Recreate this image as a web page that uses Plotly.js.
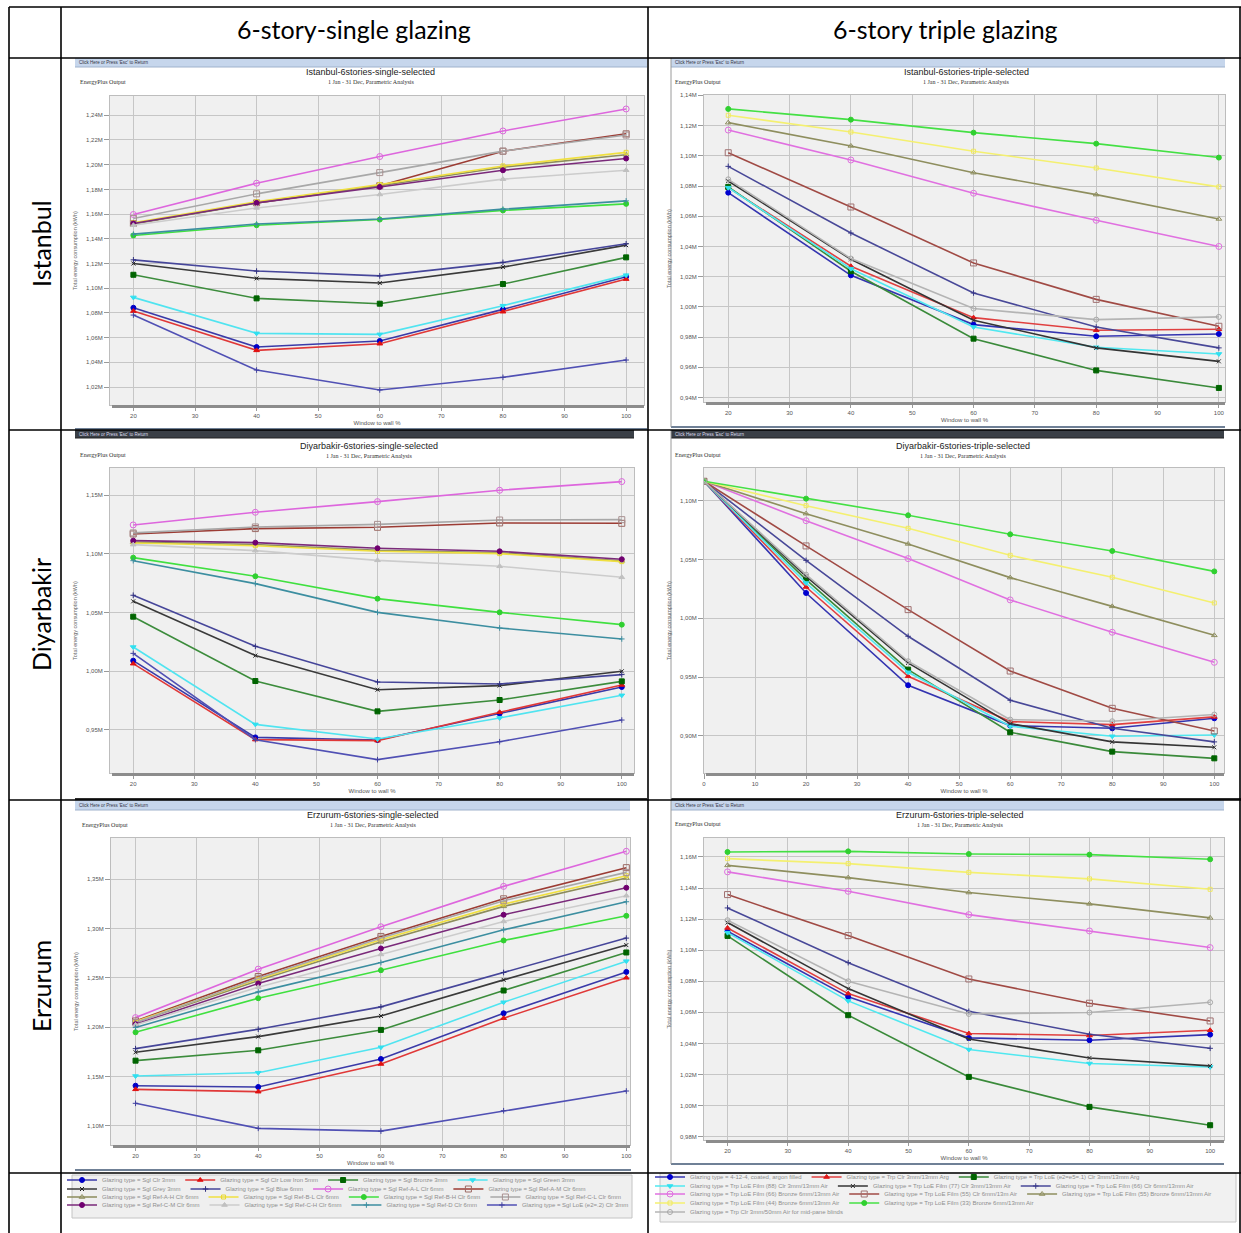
<!DOCTYPE html>
<html><head><meta charset="utf-8">
<script src="https://cdn.plot.ly/plotly-3.0.1.min.js"></script>
<style>html,body{margin:0;padding:0;background:#fff}#chart{width:1241px;height:1233px}</style>
</head><body><div id="chart"></div>
<script>
// ---------------- DATA ----------------
const wwr = [20, 40, 60, 80, 100];
const wwrDiyarbakirTriple = [0, 20, 40, 60, 80, 100];
const xTicks = [20, 30, 40, 50, 60, 70, 80, 90, 100];
const xTicksDiyarbakirTriple = [0, 10, 20, 30, 40, 50, 60, 70, 80, 90, 100];

const singleGlazing = [
  'Glazing type = Sgl Clr 3mm', 'Glazing type = Sgl Clr Low Iron 5mm', 'Glazing type = Sgl Bronze 3mm', 'Glazing type = Sgl Green 3mm',
  'Glazing type = Sgl Grey 3mm', 'Glazing type = Sgl Blue 6mm', 'Glazing type = Sgl Ref-A-L Clr 6mm', 'Glazing type = Sgl Ref-A-M Clr 6mm',
  'Glazing type = Sgl Ref-A-H Clr 6mm', 'Glazing type = Sgl Ref-B-L Clr 6mm', 'Glazing type = Sgl Ref-B-H Clr 6mm', 'Glazing type = Sgl Ref-C-L Clr 6mm',
  'Glazing type = Sgl Ref-C-M Clr 6mm', 'Glazing type = Sgl Ref-C-H Clr 6mm', 'Glazing type = Sgl Ref-D Clr 6mm', 'Glazing type = Sgl LoE (e2=.2) Clr 3mm'
];
const tripleGlazing = [
  'Glazing type = 4-12-4, coated, argon filled', 'Glazing type = Trp Clr 3mm/13mm Arg', 'Glazing type = Trp LoE (e2=e5=.1) Clr 3mm/13mm Arg',
  'Glazing type = Trp LoE Film (88) Clr 3mm/13mm Air', 'Glazing type = Trp LoE Film (77) Clr 3mm/13mm Air', 'Glazing type = Trp LoE Film (66) Clr 6mm/13mm Air',
  'Glazing type = Trp LoE Film (66) Bronze 6mm/13mm Air', 'Glazing type = Trp LoE Film (55) Clr 6mm/13m Air', 'Glazing type = Trp LoE Film (55) Bronze 6mm/13mm Air',
  'Glazing type = Trp LoE Film (44) Bronze 6mm/13mm Air', 'Glazing type = Trp LoE Film (33) Bronze 6mm/13mm Air',
  'Glazing type = Trp Clr 3mm/50mm Air for mid-pane blinds'
];

// Total energy consumption, million kWh (order = singleGlazing)
const istanbulSingle = [
  [1.0842, 1.0524, 1.0573, 1.0829, 1.1093],
  [1.0815, 1.0497, 1.0551, 1.0810, 1.1074],
  [1.1109, 1.0918, 1.0875, 1.1034, 1.1250],
  [1.0926, 1.0635, 1.0627, 1.0859, 1.1106],
  [1.1200, 1.1080, 1.1042, 1.1171, 1.1349],
  [1.1230, 1.1139, 1.1100, 1.1209, 1.1360],
  [1.1597, 1.1850, 1.2066, 1.2273, 1.2451],
  [1.1524, 1.1691, 1.1830, 1.2109, 1.2250],
  [1.1520, 1.1690, 1.1830, 1.1980, 1.2080],
  [1.1530, 1.1700, 1.1840, 1.1990, 1.2100],
  [1.1427, 1.1510, 1.1556, 1.1630, 1.1683],
  [1.1565, 1.1764, 1.1936, 1.2110, 1.2240],
  [1.1524, 1.1691, 1.1820, 1.1955, 1.2050],
  [1.1510, 1.1650, 1.1759, 1.1883, 1.1955],
  [1.1438, 1.1520, 1.1560, 1.1640, 1.1707],
  [1.0783, 1.0338, 1.0177, 1.0279, 1.0419]
];
const diyarbakirSingle = [
  [1.0089, 0.9434, 0.9412, 0.9637, 0.9864],
  [1.0063, 0.9415, 0.9406, 0.9648, 0.9881],
  [1.0464, 0.9915, 0.9656, 0.9753, 0.9912],
  [1.0205, 0.9545, 0.9420, 0.9600, 0.9793],
  [1.0595, 1.0132, 0.9841, 0.9876, 0.9998],
  [1.0647, 1.0211, 0.9907, 0.9890, 0.9970],
  [1.1247, 1.1355, 1.1446, 1.1543, 1.1617],
  [1.1170, 1.1216, 1.1227, 1.1264, 1.1261],
  [1.1100, 1.1080, 1.1030, 1.1010, 1.0940],
  [1.1093, 1.1070, 1.1022, 1.1002, 1.0934],
  [1.0968, 1.0809, 1.0618, 1.0501, 1.0396],
  [1.1179, 1.1230, 1.1252, 1.1289, 1.1292],
  [1.1113, 1.1096, 1.1048, 1.1022, 1.0954],
  [1.1079, 1.1028, 1.0945, 1.0894, 1.0800],
  [1.0942, 1.0746, 1.0501, 1.0368, 1.0274],
  [1.0151, 0.9414, 0.9244, 0.9397, 0.9582]
];
const erzurumSingle = [
  [1.1406, 1.1393, 1.1677, 1.2141, 1.2561],
  [1.1369, 1.1345, 1.1626, 1.2091, 1.2501],
  [1.1660, 1.1765, 1.1972, 1.2372, 1.2758],
  [1.1504, 1.1538, 1.1796, 1.2253, 1.2670],
  [1.1745, 1.1904, 1.2114, 1.2480, 1.2833],
  [1.1782, 1.1979, 1.2206, 1.2555, 1.2904],
  [1.2097, 1.2589, 1.3019, 1.3429, 1.3785],
  [1.2063, 1.2514, 1.2921, 1.3303, 1.3619],
  [1.2050, 1.2473, 1.2866, 1.3226, 1.3514],
  [1.2057, 1.2487, 1.2887, 1.3249, 1.3537],
  [1.1948, 1.2294, 1.2578, 1.2880, 1.3130],
  [1.2047, 1.2497, 1.2904, 1.3283, 1.3571],
  [1.2030, 1.2443, 1.2799, 1.3141, 1.3415],
  [1.2023, 1.2406, 1.2738, 1.3073, 1.3334],
  [1.1996, 1.2358, 1.2656, 1.2988, 1.3273],
  [1.1227, 1.0973, 1.0945, 1.1152, 1.1352]
];
// order = tripleGlazing
const istanbulTriple = [
  [1.0756, 1.0209, 0.9883, 0.9806, 0.9821],
  [1.0789, 1.0269, 0.9929, 0.9846, 0.9852],
  [1.0794, 1.0236, 0.9790, 0.9580, 0.9464],
  [1.0789, 1.0253, 0.9867, 0.9733, 0.9689],
  [1.0833, 1.0315, 0.9912, 0.9729, 0.9640],
  [1.0930, 1.0489, 1.0092, 0.9867, 0.9729],
  [1.1170, 1.0972, 1.0752, 1.0573, 1.0400],
  [1.1020, 1.0661, 1.0291, 1.0050, 0.9872],
  [1.1219, 1.1065, 1.0888, 1.0743, 1.0582],
  [1.1268, 1.1157, 1.1030, 1.0919, 1.0794],
  [1.1310, 1.1239, 1.1153, 1.1080, 1.0988],
  [1.0844, 1.0320, 0.9989, 0.9916, 0.9934]
];
const diyarbakirTriple = [
  [1.1168, 1.0216, 0.9430, 0.9086, 0.9063, 0.9148],
  [1.1168, 1.0267, 0.9506, 0.9120, 0.9094, 0.9160],
  [1.1168, 1.0330, 0.9563, 0.9029, 0.8864, 0.8807],
  [1.1168, 1.0301, 0.9540, 0.9080, 0.8995, 0.9006],
  [1.1168, 1.0358, 0.9620, 0.9103, 0.8947, 0.8901],
  [1.1168, 1.0494, 0.9847, 0.9302, 0.9063, 0.8947],
  [1.1168, 1.0832, 1.0509, 1.0157, 0.9881, 0.9625],
  [1.1168, 1.0617, 1.0074, 0.9551, 0.9233, 0.9040],
  [1.1168, 1.0892, 1.0634, 1.0347, 1.0102, 0.9855],
  [1.1168, 1.0960, 1.0767, 1.0537, 1.0350, 1.0131],
  [1.1168, 1.1020, 1.0878, 1.0716, 1.0574, 1.0400],
  [1.1168, 1.0372, 0.9634, 0.9137, 0.9123, 0.9180]
];
const erzurumTriple = [
  [1.1122, 1.0700, 1.0436, 1.0421, 1.0457],
  [1.1143, 1.0721, 1.0464, 1.0451, 1.0485],
  [1.1092, 1.0582, 1.0185, 0.9992, 0.9874],
  [1.1113, 1.0674, 1.0361, 1.0271, 1.0249],
  [1.1178, 1.0753, 1.0429, 1.0307, 1.0256],
  [1.1272, 1.0920, 1.0607, 1.0459, 1.0369],
  [1.1504, 1.1379, 1.1229, 1.1124, 1.1017],
  [1.1358, 1.1094, 1.0815, 1.0659, 1.0545],
  [1.1546, 1.1467, 1.1371, 1.1298, 1.1208],
  [1.1589, 1.1557, 1.1501, 1.1459, 1.1392],
  [1.1632, 1.1636, 1.1619, 1.1615, 1.1585],
  [1.1193, 1.0800, 1.0590, 1.0599, 1.0665]
];

// Tick labels
const istanbulSingleYTicks = [1.02, 1.04, 1.06, 1.08, 1.10, 1.12, 1.14, 1.16, 1.18, 1.20, 1.22, 1.24];
const istanbulSingleYLabels = ['1,02M', '1,04M', '1,06M', '1,08M', '1,10M', '1,12M', '1,14M', '1,16M', '1,18M', '1,20M', '1,22M', '1,24M'];
const istanbulTripleYTicks = [0.94, 0.96, 0.98, 1.00, 1.02, 1.04, 1.06, 1.08, 1.10, 1.12, 1.14];
const istanbulTripleYLabels = ['0,94M', '0,96M', '0,98M', '1,00M', '1,02M', '1,04M', '1,06M', '1,08M', '1,10M', '1,12M', '1,14M'];
const diyarbakirSingleYTicks = [0.95, 1.00, 1.05, 1.10, 1.15];
const diyarbakirSingleYLabels = ['0,95M', '1,00M', '1,05M', '1,10M', '1,15M'];
const diyarbakirTripleYTicks = [0.90, 0.95, 1.00, 1.05, 1.10];
const diyarbakirTripleYLabels = ['0,90M', '0,95M', '1,00M', '1,05M', '1,10M'];
const erzurumSingleYTicks = [1.10, 1.15, 1.20, 1.25, 1.30, 1.35];
const erzurumSingleYLabels = ['1,10M', '1,15M', '1,20M', '1,25M', '1,30M', '1,35M'];
const erzurumTripleYTicks = [0.98, 1.00, 1.02, 1.04, 1.06, 1.08, 1.10, 1.12, 1.14, 1.16];
const erzurumTripleYLabels = ['0,98M', '1,00M', '1,02M', '1,04M', '1,06M', '1,08M', '1,10M', '1,12M', '1,14M', '1,16M'];

const columnHeaders = ['6-story-single glazing', '6-story triple glazing'];
const rowHeaders = ['Istanbul', 'Diyarbakir', 'Erzurum'];

// ---------------- STYLES ----------------
const singleStyles = [
  {line: '#3a3aa8', marker: '#0000c8', symbol: 'circle', size: 5},
  {line: '#e03838', marker: '#e01010', symbol: 'triangle-up', size: 5},
  {line: '#3c8c3c', marker: '#006400', symbol: 'square', size: 5},
  {line: '#50e4f0', marker: '#30e0f0', symbol: 'triangle-down', size: 5},
  {line: '#3a3a3a', marker: '#202020', symbol: 'x-thin-open', size: 4},
  {line: '#46469a', marker: '#303080', symbol: 'cross-thin-open', size: 4},
  {line: '#dd66dd', marker: '#dd66dd', symbol: 'circle-open', size: 6},
  {line: '#9c3c34', marker: '#9c6a64', symbol: 'square-open', size: 6},
  {line: '#8c8c5c', marker: '#8c8c5c', symbol: 'triangle-up-open', size: 5},
  {line: '#f0e040', marker: '#e8d830', symbol: 'square-open', size: 4},
  {line: '#40e040', marker: '#30d030', symbol: 'circle', size: 5},
  {line: '#a8a8a8', marker: '#a89090', symbol: 'square-open', size: 6},
  {line: '#7a2a7a', marker: '#700070', symbol: 'circle', size: 5},
  {line: '#cccccc', marker: '#c0c0c0', symbol: 'triangle-up', size: 5},
  {line: '#3c8ea0', marker: '#3c8ea0', symbol: 'cross-thin-open', size: 4},
  {line: '#5050b4', marker: '#4040a0', symbol: 'cross-thin-open', size: 4}
];
const tripleStyles = [
  {line: '#3434b0', marker: '#0000d0', symbol: 'circle', size: 5},
  {line: '#e04040', marker: '#e01818', symbol: 'triangle-up', size: 5},
  {line: '#3a8a3a', marker: '#006400', symbol: 'square', size: 5},
  {line: '#50e8f0', marker: '#30e0f0', symbol: 'triangle-down', size: 5},
  {line: '#343434', marker: '#303030', symbol: 'x-thin-open', size: 4},
  {line: '#484898', marker: '#383888', symbol: 'cross-thin-open', size: 4},
  {line: '#e070e0', marker: '#e070e0', symbol: 'circle-open', size: 6},
  {line: '#a04a44', marker: '#a07070', symbol: 'square-open', size: 6},
  {line: '#8e8e5e', marker: '#8e8e5e', symbol: 'triangle-up-open', size: 5},
  {line: '#f4f070', marker: '#f0e860', symbol: 'square-open', size: 4},
  {line: '#44e044', marker: '#30d030', symbol: 'circle', size: 5},
  {line: '#b4b4b4', marker: '#a8a8a8', symbol: 'circle-open', size: 5}
];

// ---------------- LAYOUT HELPERS ----------------
const W = 1241, H = 1233;
const fx = x => x / W;
const fy = y => 1 - y / H;

const panels = [
  {title: 'Istanbul-6stories-single-selected', x: wwr, xt: xTicks, data: istanbulSingle, names: singleGlazing, styles: singleStyles,
   box: [110, 96, 644, 405], xr: [16.2, 102.9], yr: [1.0055, 1.2556], yt: istanbulSingleYTicks, yl: istanbulSingleYLabels,
   shot: [75, 58, 647, 429], strip: [75, 58, 647, 67], dark: false, cx: 371, ty: 72, epx: 78, ep: 82, legendRow: i => Math.floor(i / 4)},
  {title: 'Istanbul-6stories-triple-selected', x: wwr, xt: xTicks, data: istanbulTriple, names: tripleGlazing, styles: tripleStyles,
   box: [704, 95, 1225, 402], xr: [16.05, 101.0], yr: [0.9371, 1.1402], yt: istanbulTripleYTicks, yl: istanbulTripleYLabels,
   shot: [671, 58, 1225, 427], strip: [671, 58, 1225, 67], dark: false, cx: 966, ty: 72, epx: 673, ep: 82, legendRow: i => [0,0,0,1,1,1,2,2,2,3,3,4][i] + 4},
  {title: 'Diyarbakir-6stories-single-selected', x: wwr, xt: xTicks, data: diyarbakirSingle, names: singleGlazing, styles: singleStyles,
   box: [110, 468, 634, 773], xr: [16.2, 102.0], yr: [0.913, 1.1733], yt: diyarbakirSingleYTicks, yl: diyarbakirSingleYLabels,
   shot: [75, 430, 647, 799], strip: [75, 430, 634, 438], dark: true, cx: 369, ty: 446, epx: 78, ep: 455, legendRow: null},
  {title: 'Diyarbakir-6stories-triple-selected', x: wwrDiyarbakirTriple, xt: xTicksDiyarbakirTriple, data: diyarbakirTriple, names: tripleGlazing, styles: tripleStyles,
   box: [704, 468, 1224, 773], xr: [0, 101.9], yr: [0.8682, 1.1281], yt: diyarbakirTripleYTicks, yl: diyarbakirTripleYLabels,
   shot: [671, 430, 1241, 799], strip: [671, 430, 1224, 438], dark: true, cx: 963, ty: 446, epx: 673, ep: 455, legendRow: null},
  {title: 'Erzurum-6stories-single-selected', x: wwr, xt: xTicks, data: erzurumSingle, names: singleGlazing, styles: singleStyles,
   box: [111, 838, 630, 1145], xr: [16.0, 100.6], yr: [1.0804, 1.392], yt: erzurumSingleYTicks, yl: erzurumSingleYLabels,
   shot: [75, 800, 631, 1170], strip: [75, 800, 630, 810], dark: false, cx: 373, ty: 815, epx: 80, ep: 825, legendRow: null},
  {title: 'Erzurum-6stories-triple-selected', x: wwr, xt: xTicks, data: erzurumTriple, names: tripleGlazing, styles: tripleStyles,
   box: [704, 838, 1224, 1140], xr: [16.1, 102.3], yr: [0.9779, 1.1722], yt: erzurumTripleYTicks, yl: erzurumTripleYLabels,
   shot: [671, 800, 1224, 1164], strip: [671, 800, 1224, 810], dark: false, cx: 960, ty: 815, epx: 673, ep: 824, legendRow: null}
];

const traces = [];
const layout = {
  width: W, height: H, margin: {l: 0, r: 0, t: 0, b: 0},
  paper_bgcolor: '#ffffff', plot_bgcolor: '#f0f0f0',
  font: {family: 'Liberation Sans, Arial, sans-serif', size: 6, color: '#555'},
  showlegend: true, hovermode: 'closest',
  shapes: [], annotations: []
};

panels.forEach((p, k) => {
  const xa = k === 0 ? 'x' : 'x' + (k + 1);
  const ya = k === 0 ? 'y' : 'y' + (k + 1);
  const [l, t, r, b] = p.box;
  p.data.forEach((vals, i) => {
    const st = p.styles[i];
    const tr = {
      type: 'scatter', mode: 'lines+markers', x: p.x, y: vals, name: p.names[i],
      xaxis: xa, yaxis: ya, legendgroup: (p.names === singleGlazing ? 's' : 't') + i,
      line: {color: st.line, width: 1.6},
      marker: {color: st.marker, symbol: st.symbol, size: st.size, line: {color: st.marker, width: 1}},
      showlegend: p.legendRow !== null,
      hovertemplate: '%{x}%: %{y:.3f}M kWh<extra>' + p.names[i] + '</extra>'
    };
    if (p.legendRow !== null) {
      const row = p.legendRow(i);
      tr.legend = row === 0 ? 'legend' : 'legend' + (row + 1);
    }
    traces.push(tr);
  });
  layout['xaxis' + (k === 0 ? '' : k + 1)] = {
    domain: [fx(l), fx(r)], range: p.xr, anchor: ya, tickvals: p.xt, ticktext: p.xt.map(String),
    showgrid: true, gridcolor: '#c6c6c6', gridwidth: 1, zeroline: false,
    showline: true, linecolor: '#bdbdbd', linewidth: 1, mirror: true,
    ticks: 'outside', ticklen: 5, tickcolor: '#9a9a9a', tickfont: {size: 6, color: '#555'},
    title: {text: 'Window to wall %', font: {size: 6, color: '#555'}, standoff: 2}
  };
  layout['yaxis' + (k === 0 ? '' : k + 1)] = {
    domain: [fy(b), fy(t)], range: p.yr, anchor: xa, tickvals: p.yt, ticktext: p.yl,
    showgrid: true, gridcolor: '#c6c6c6', gridwidth: 1, zeroline: false,
    showline: true, linecolor: '#bdbdbd', linewidth: 1, mirror: true,
    ticks: 'outside', ticklen: 5, tickcolor: '#9a9a9a', tickfont: {size: 6, color: '#555'},
    title: {text: 'Total energy consumption (kWh)', font: {size: 5.5, color: '#666'}, standoff: 8}
  };

  // screenshot chrome
  const [sl, stp, sr, sb] = p.strip;
  layout.shapes.push({type: 'rect', xref: 'paper', yref: 'paper', layer: 'below',
    x0: fx(sl), x1: fx(sr), y0: fy(stp), y1: fy(sb), line: {width: 0},
    fillcolor: p.dark ? '#3a3f46' : '#c6d6ec'});
  layout.shapes.push({type: 'line', xref: 'paper', yref: 'paper', layer: 'below',
    x0: fx(sl), x1: fx(sr), y0: fy(sb), y1: fy(sb), line: {width: 1, color: p.dark ? '#222' : '#9fb2cc'}});
  layout.annotations.push({xref: 'paper', yref: 'paper', x: fx(sl + 2), y: fy((stp + sb) / 2), xanchor: 'left', yanchor: 'middle',
    text: "Click Here or Press 'Esc' to Return", showarrow: false, font: {size: 4.5, color: p.dark ? '#dde' : '#334'}});
  // bottom line of screenshot
  const [shl, sht, shr, shb] = p.shot;
  layout.shapes.push({type: 'line', xref: 'paper', yref: 'paper', layer: 'below',
    x0: fx(shl), x1: fx(shr), y0: fy(shb), y1: fy(shb), line: {width: 2, color: p.dark ? '#2e2e2e' : '#6f8096'}});
  if (shl > 660) {
    layout.shapes.push({type: 'line', xref: 'paper', yref: 'paper', layer: 'below',
      x0: fx(shl), x1: fx(shl), y0: fy(sht), y1: fy(shb), line: {width: 1, color: '#9a9a9a'}});
  }
  // floor bar under the plot area
  layout.shapes.push({type: 'rect', xref: 'paper', yref: 'paper', layer: 'above',
    x0: fx(l + 2), x1: fx(r), y0: fy(b + 3), y1: fy(b), line: {width: 0}, fillcolor: '#8c8c8c'});
  // titles
  layout.annotations.push({xref: 'paper', yref: 'paper', x: fx(p.cx), y: fy(p.ty), xanchor: 'center', yanchor: 'middle',
    text: p.title, showarrow: false, font: {size: 9, color: '#222', family: 'Liberation Sans, Arial, sans-serif'}});
  layout.annotations.push({xref: 'paper', yref: 'paper', x: fx(p.cx), y: fy(p.ty + 10), xanchor: 'center', yanchor: 'middle',
    text: '1 Jan - 31 Dec, Parametric Analysis', showarrow: false, font: {size: 6, color: '#333', family: 'Liberation Serif, serif'}});
  layout.annotations.push({xref: 'paper', yref: 'paper', x: fx(p.epx), y: fy(p.ep), xanchor: 'left', yanchor: 'middle',
    text: 'EnergyPlus Output', showarrow: false, font: {size: 6, color: '#333', family: 'Liberation Serif, serif'}});
});

// legends (rows)
const leftRowsY = [1180, 1189, 1197, 1205];
const rightRowsY = [1177, 1186, 1194, 1203, 1212];
const legendBase = {orientation: 'h', xanchor: 'left', yanchor: 'middle', bgcolor: 'rgba(0,0,0,0)', borderwidth: 0,
  font: {size: 6, color: '#8e8e8e', family: 'Liberation Sans, Arial, sans-serif'}, itemwidth: 30, tracegroupgap: 0};
leftRowsY.forEach((y, r) => {
  layout[r === 0 ? 'legend' : 'legend' + (r + 1)] = Object.assign({}, legendBase, {x: fx(62), y: fy(y)});
});
rightRowsY.forEach((y, r) => {
  layout['legend' + (r + 5)] = Object.assign({}, legendBase, {x: fx(650), y: fy(y)});
});
// legend boxes
layout.shapes.push({type: 'rect', xref: 'paper', yref: 'paper', layer: 'below', x0: fx(72), x1: fx(632), y0: fy(1218), y1: fy(1175),
  line: {width: 1, color: '#c4c4c4'}, fillcolor: '#efefef'});
layout.shapes.push({type: 'rect', xref: 'paper', yref: 'paper', layer: 'below', x0: fx(660), x1: fx(1236), y0: fy(1222), y1: fy(1173),
  line: {width: 1, color: '#c4c4c4'}, fillcolor: '#f1f1f1'});

// table grid
const tLine = {width: 1.6, color: '#000'};
[9, 61, 648, 1240].forEach(x => layout.shapes.push({type: 'line', xref: 'paper', yref: 'paper', layer: 'above',
  x0: fx(x), x1: fx(x), y0: fy(7), y1: fy(1233), line: tLine}));
[7, 58, 430, 800, 1173].forEach(y => layout.shapes.push({type: 'line', xref: 'paper', yref: 'paper', layer: 'above',
  x0: fx(9), x1: fx(1241), y0: fy(y), y1: fy(y), line: tLine}));

// headers
[354, 945].forEach((x, i) => layout.annotations.push({xref: 'paper', yref: 'paper', x: fx(x), y: fy(29), xanchor: 'center', yanchor: 'middle',
  text: columnHeaders[i], showarrow: false, font: {size: 25, color: '#000', family: 'Lato, Carlito, Calibri, sans-serif'}}));
[244, 615, 986].forEach((y, i) => layout.annotations.push({xref: 'paper', yref: 'paper', x: fx(41), y: fy(y), xanchor: 'center', yanchor: 'middle',
  text: rowHeaders[i], textangle: -90, showarrow: false, font: {size: 25, color: '#000', family: 'Lato, Carlito, Calibri, sans-serif'}}));

Plotly.newPlot('chart', traces, layout, {displayModeBar: false, responsive: false});
</script></body></html>
